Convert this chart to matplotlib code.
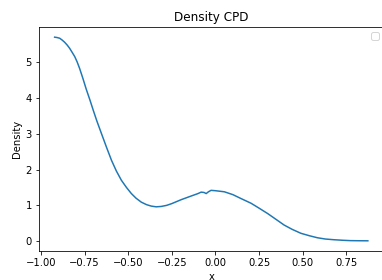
import matplotlib
matplotlib.use("Agg")
import matplotlib.pyplot as plt
import warnings

# points
x = [-0.922, -0.908, -0.893, -0.879, -0.865, -0.85, -0.836, -0.822, -0.807, -0.793,
     -0.779, -0.76, -0.741, -0.72, -0.7, -0.68, -0.653, -0.625, -0.596, -0.568,
     -0.539, -0.51, -0.482, -0.455, -0.425, -0.395, -0.368, -0.34, -0.311, -0.28,
     -0.25, -0.196, -0.14, -0.1, -0.082, -0.065, -0.053, -0.04, -0.025, 0.0,
     0.051, 0.1, 0.147, 0.204, 0.251, 0.30, 0.35, 0.394, 0.44, 0.49,
     0.54, 0.585, 0.63, 0.68, 0.73, 0.775, 0.82, 0.874]
density = [5.70, 5.69, 5.67, 5.62, 5.56, 5.48, 5.39, 5.28, 5.16, 5.01,
           4.83, 4.55, 4.25, 3.95, 3.65, 3.36, 3.00, 2.63, 2.26, 1.96,
           1.70, 1.50, 1.33, 1.20, 1.09, 1.02, 0.98, 0.96, 0.97, 1.00,
           1.05, 1.16, 1.26, 1.33, 1.37, 1.36, 1.33, 1.38, 1.42, 1.41,
           1.38, 1.30, 1.19, 1.06, 0.92, 0.77, 0.60, 0.45, 0.33, 0.22,
           0.15, 0.095, 0.06, 0.04, 0.025, 0.015, 0.012, 0.01]

fig = plt.figure(figsize=(382 / 72, 280 / 72), dpi=72)
ax = fig.add_axes([0.102, 0.1036, 0.902, 0.80])
ax.plot(x, density, color="tab:blue", lw=1.5)
ax.set_title("Density CPD")
ax.set_xlabel("x")
ax.set_ylabel("Density")
with warnings.catch_warnings():
    warnings.simplefilter("ignore")
    ax.legend(loc="upper right")

fig.savefig("out.png", dpi=72)
